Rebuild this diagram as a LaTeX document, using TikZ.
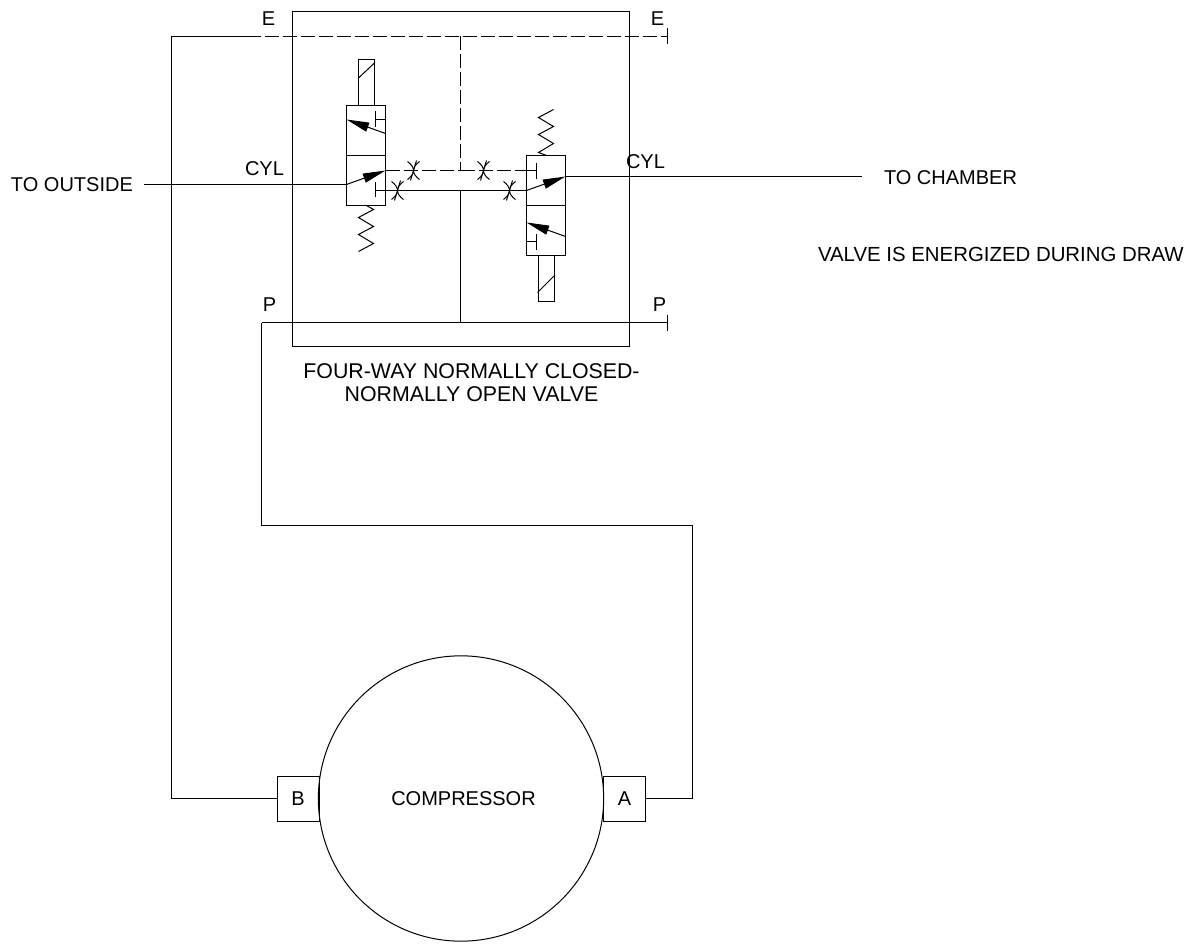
\documentclass[tikz,border=0pt]{standalone}
\usepackage{fontspec}
\setmainfont{Liberation Sans}
\usetikzlibrary{calc,positioning,arrows.meta}

\begin{document}
\begin{tikzpicture}[
		x=0.75pt, y=-0.75pt,
		xshift=0.375pt, yshift=-0.375pt,
		line width=0.75pt,
		label/.style={inner sep=0pt, font=\fontsize{15pt}{17.5pt}\selectfont, align=center},
		port/.style={rectangle, draw, inner sep=0pt, minimum width=31.5pt, minimum height=33.75pt, font=\fontsize{15pt}{18pt}\selectfont},
		body/.style={rectangle, draw, inner sep=0pt, minimum width=29.25pt, minimum height=37.5pt},
		coil/.style={rectangle, draw, inner sep=0pt, minimum width=12pt, minimum height=34.5pt},
		drain/.style={dash pattern=on 10.5pt off 3pt},
		flow/.style={-{Triangle[length=17pt,width=7pt]}},
		]
	\useasboundingbox (-0.5,-0.5) rectangle (1185.5,944.5);

	% --- manifold and compressor ---
	\node[rectangle, draw, inner sep=0pt, minimum width=252.75pt, minimum height=251.25pt] (block) at (460.5,178.5) {};
	\node[circle, draw, inner sep=0pt, minimum size=214pt] (comp) at (460.5,798) {};
	\node[label] (complabel) at (463,798) {COMPRESSOR};
	\node[port] (B) at (297.5,798.5) {B};
	\node[port] (A) at (624,798.5) {A};

	% --- ends of the lines ---
	\coordinate (Eleft) at (171,36);
	\coordinate (Edash) at (260,36);
	\coordinate (Ejoin) at (460,36);
	\coordinate (Eend) at (667,36);
	\coordinate (Pstart) at (261,322);
	\coordinate (Pjoin) at (460,322);
	\coordinate (Pend) at (667,322);

	% --- left valve ---
	\node[body] (L1) at (365.5,130) {};
	\node[body] (L2) at (365.5,180) {};
	\node[coil] (Lcoil) at (366,82) {};
	\coordinate (Lout) at (143,184);
	\coordinate (Lin) at (346,184);
	\coordinate (Ltip) at (385,170);
	\coordinate (Ltop) at (346,119);
	\coordinate (Ltopb) at (385,133);
	\coordinate (Lstem) at (375,190);

	% --- right valve ---
	\node[body] (R1) at (545.5,180) {};
	\node[body] (R2) at (545.5,230) {};
	\node[coil] (Rcoil) at (545.5,278) {};
	\coordinate (Rout) at (861,176);
	\coordinate (Rtip) at (565,176);
	\coordinate (Rin) at (526,190);
	\coordinate (Rbot) at (526,222);
	\coordinate (Rbotb) at (565,236);
	\coordinate (Rstem) at (536,170);
	\coordinate (Jdash) at (460,170);
	\coordinate (Jsolid) at (460,190);

	% --- outer piping ---
	\draw (B.west |- 0,798) -- (Eleft |- 0,798) -- (Eleft) -- (Edash);
	\draw[drain, dash phase=10.5pt] (Edash) -- (Eend);
	\draw (Eend) ++(0,-8) -- ++(0,16);
	\draw (Pstart) -- (Pend);
	\draw (Pend) ++(0,-8) -- ++(0,16);
	\draw (Pstart) -- (261,525) -- (692,525) -- (692,798) -- (A.east |- 0,798);

	% --- valve lines ---
	\draw[drain] (Ejoin) -- (Jdash);
	\draw[drain] (Ltip) -- (Jdash);
	\draw[drain] (Jdash) -- (Rin |- Jdash);
	\draw (Rin |- Rstem) -- (Rstem);
	\draw (Lstem) -- (Jsolid) -- (Rin);
	\draw (Jsolid) -- (Pjoin);
	\draw (Lout) -- (Lin);
	\draw (Rtip) -- (Rout);

	% --- arrows ---
	\draw[flow] (Lin) -- (Ltip);
	\draw[flow] (Ltopb) -- (Ltop);
	\draw[flow] (Rin) -- (Rtip);
	\draw[flow] (Rbotb) -- (Rbot);

	% --- blocked ports ---
	\draw (375,182) -- (375,197);
	\draw (375,111) -- (375,127);
	\draw (385,119) -- (375,119);
	\draw (536,163) -- (536,179);
	\draw (536,234) -- (536,250);
	\draw (526,241) -- (536,241);

	% --- coil slashes and springs ---
	\draw (Lcoil.west |- 0,78) -- (Lcoil.east |- 0,62);
	\draw (Rcoil.west |- 0,292) -- (Rcoil.east |- 0,275);
	\draw (366,205) -- (373,209) -- (358,217) -- (373,226) -- (358,234) -- (373,243) -- (358,251);
	\draw (546,155) -- (538,152) -- (553,143) -- (538,134) -- (553,126) -- (538,117) -- (553,109);

	% --- restrictors ---
	\foreach \x/\y/\name in {413/170/ra, 397/190/rb, 483/170/rc, 509/190/rd} {
		\coordinate (\name) at (\x,\y);
		\draw (\x-6,\y-9) .. controls (\x+2,\y-3) and (\x+2,\y+3) .. (\x-6,\y+9);
		\draw (\x+6,\y-9) .. controls (\x-2,\y-3) and (\x-2,\y+3) .. (\x+6,\y+9);
		\draw (\x-3,\y+10) -- (\x+3,\y-10);
	}

	% --- labels ---
	\node[label, anchor=west] (toout) at (10,184) {TO OUTSIDE};
	\node[label, anchor=west] (tocham) at (883,177) {TO CHAMBER};
	\node[label, anchor=west, font=\fontsize{15.3pt}{18pt}\selectfont] (note) at (817,254) {VALVE IS ENERGIZED DURING DRAW};
	\node[label] (cylL) at (264,168) {CYL};
	\node[label] (cylR) at (645,161) {CYL};
	\node[label] (Etl) at (268,18) {E};
	\node[label] (Etr) at (657,18) {E};
	\node[label] (Ptl) at (269,304) {P};
	\node[label] (Ptr) at (659,304) {P};
	\node[label, font=\fontsize{16pt}{17.5pt}\selectfont] (title) at (471,382) {FOUR-WAY NORMALLY CLOSED-\\NORMALLY OPEN VALVE};

\end{tikzpicture}
\end{document}
